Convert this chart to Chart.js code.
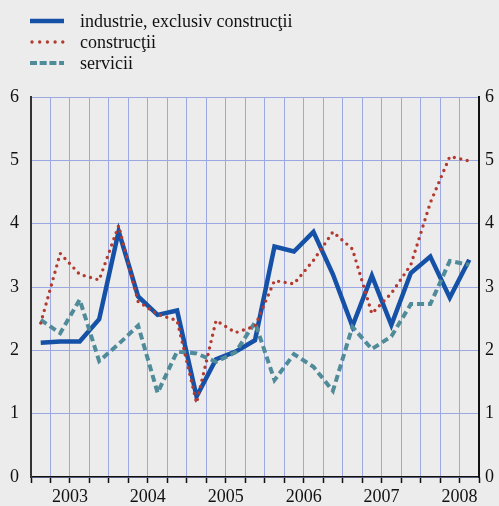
<!DOCTYPE html>
<html>
<head>
<meta charset="utf-8">
<script src="https://cdn.jsdelivr.net/npm/chart.js@4/dist/chart.umd.min.js"></script>
<style>
  html, body { margin: 0; padding: 0; background: #ececec; }
  #wrap { position: relative; width: 499px; height: 506px; }
  #legend { position: absolute; left: 0; top: 0; width: 499px; height: 80px;
            font-family: "Liberation Serif", "Times New Roman", serif; font-size: 18px; color: #111; }
  .row { position: absolute; left: 28px; height: 22px; display: flex; align-items: center; }
  .row svg { width: 40px; height: 20px; margin-right: 12px; }
</style>
</head>
<body>
<div id="wrap">
  <canvas id="c" width="499" height="506"></canvas>
  <div id="legend"></div>
</div>
<script>
// Quarterly growth, 2003 Q1 – 2008 Q3
const years = ['2003', '2004', '2005', '2006', '2007', '2008'];
const quarters = ['2003 T1','2003 T2','2003 T3','2003 T4','2004 T1','2004 T2','2004 T3','2004 T4',
                  '2005 T1','2005 T2','2005 T3','2005 T4','2006 T1','2006 T2','2006 T3','2006 T4',
                  '2007 T1','2007 T2','2007 T3','2007 T4','2008 T1','2008 T2','2008 T3'];
const industrie = [2.12, 2.14, 2.14, 2.49, 3.88, 2.85, 2.56, 2.63, 1.27, 1.86, 1.98, 2.16,
                   3.64, 3.56, 3.87, 3.20, 2.38, 3.18, 2.40, 3.22, 3.48, 2.83, 3.43];
const constructii = [2.43, 3.53, 3.20, 3.11, 3.97, 2.77, 2.57, 2.47, 1.17, 2.47, 2.28, 2.38,
                     3.10, 3.05, 3.42, 3.87, 3.60, 2.58, 2.90, 3.35, 4.33, 5.06, 4.99];
const servicii = [2.48, 2.27, 2.80, 1.83, 2.10, 2.39, 1.33, 1.98, 1.95, 1.82, 1.97, 2.44,
                  1.53, 1.94, 1.74, 1.36, 2.37, 2.02, 2.22, 2.73, 2.73, 3.41, 3.35];
const yTicks = [0, 1, 2, 3, 4, 5, 6];

const serieNames = ['industrie, exclusiv construcţii', 'construcţii', 'servicii'];
const BLUE = '#1551a6', RED = '#b23a2f', TEAL = '#508b99', GRID = '#9ba8e2';
const FONT = { family: '"Liberation Serif", "Times New Roman", serif', size: 18 };

// each quarter sits in the middle of its grid cell
const toPoints = arr => arr.map((v, i) => ({ x: i + 0.5, y: v }));

// legend rows: line sample + label
const styles = [
  { color: BLUE, width: 4.5, dash: '', cap: 'butt' },
  { color: RED, width: 3.4, dash: '0 7.7', cap: 'round' },
  { color: TEAL, width: 4, dash: '7 2.7', cap: 'butt' }
];
const legend = document.getElementById('legend');
const rowsY = [10, 31, 52];
serieNames.forEach((name, k) => {
  const s = styles[k];
  const row = document.createElement('div');
  row.className = 'row';
  row.style.top = rowsY[k] + 'px';
  row.innerHTML = '<svg viewBox="0 0 40 20"><line x1="' + (k === 1 ? 4 : 2) + '" y1="10" x2="36" y2="10" stroke="' + s.color +
    '" stroke-width="' + s.width + '" stroke-linecap="' + s.cap + '"' +
    (s.dash ? ' stroke-dasharray="' + s.dash + '"' : '') + '/></svg><span>' + name + '</span>';
  legend.appendChild(row);
});

new Chart(document.getElementById('c'), {
  type: 'line',
  data: {
    labels: quarters,
    datasets: [
      { label: serieNames[1], data: toPoints(constructii), borderColor: RED, borderWidth: 3.4,
        borderDash: [0, 6.6], borderCapStyle: 'round', pointRadius: 0, tension: 0, order: 0 },
      { label: serieNames[2], data: toPoints(servicii), borderColor: TEAL, borderWidth: 4,
        borderDash: [7, 4], borderCapStyle: 'butt', pointRadius: 0, tension: 0, order: 1 },
      { label: serieNames[0], data: toPoints(industrie), borderColor: BLUE, borderWidth: 4.5,
        pointRadius: 0, tension: 0, order: 2 }
    ]
  },
  options: {
    responsive: false,
    animation: false,
    devicePixelRatio: 1,
    layout: { padding: { top: 97, left: 0, right: 0, bottom: 0 } },
    plugins: { legend: { display: false }, tooltip: { enabled: false } },
    scales: {
      x: {
        type: 'linear', min: 0, max: quarters.length,
        afterBuildTicks: s => { s.ticks = quarters.map((q, i) => ({ value: i })).concat([{ value: quarters.length }]); },
        ticks: {
          autoSkip: false, maxRotation: 0, padding: 3, color: '#111', font: FONT,
          callback: v => (Math.round(v) % 4 === 2 ? years[(Math.round(v) - 2) / 4] : '')
        },
        grid: { color: GRID, lineWidth: 1, tickColor: '#111', tickLength: 6, tickWidth: 1.5 },
        border: { color: '#111', width: 1.5 },
        afterFit: s => { s.height = 29; }
      },
      y: {
        position: 'left', min: 0, max: 6,
        afterBuildTicks: s => { s.ticks = yTicks.map(v => ({ value: v })); },
        ticks: { padding: 12, color: '#111', font: FONT },
        grid: { color: GRID, lineWidth: 1, drawTicks: false },
        border: { color: '#333', width: 2 },
        afterFit: s => { s.width = 31; }
      },
      y2: {
        position: 'right', min: 0, max: 6,
        afterBuildTicks: s => { s.ticks = yTicks.map(v => ({ value: v })); },
        ticks: { padding: 6, color: '#111', font: FONT },
        grid: { drawOnChartArea: false, drawTicks: false },
        border: { color: '#111', width: 2 },
        afterFit: s => { s.width = 20; }
      }
    }
  }
});
</script>
</body>
</html>
